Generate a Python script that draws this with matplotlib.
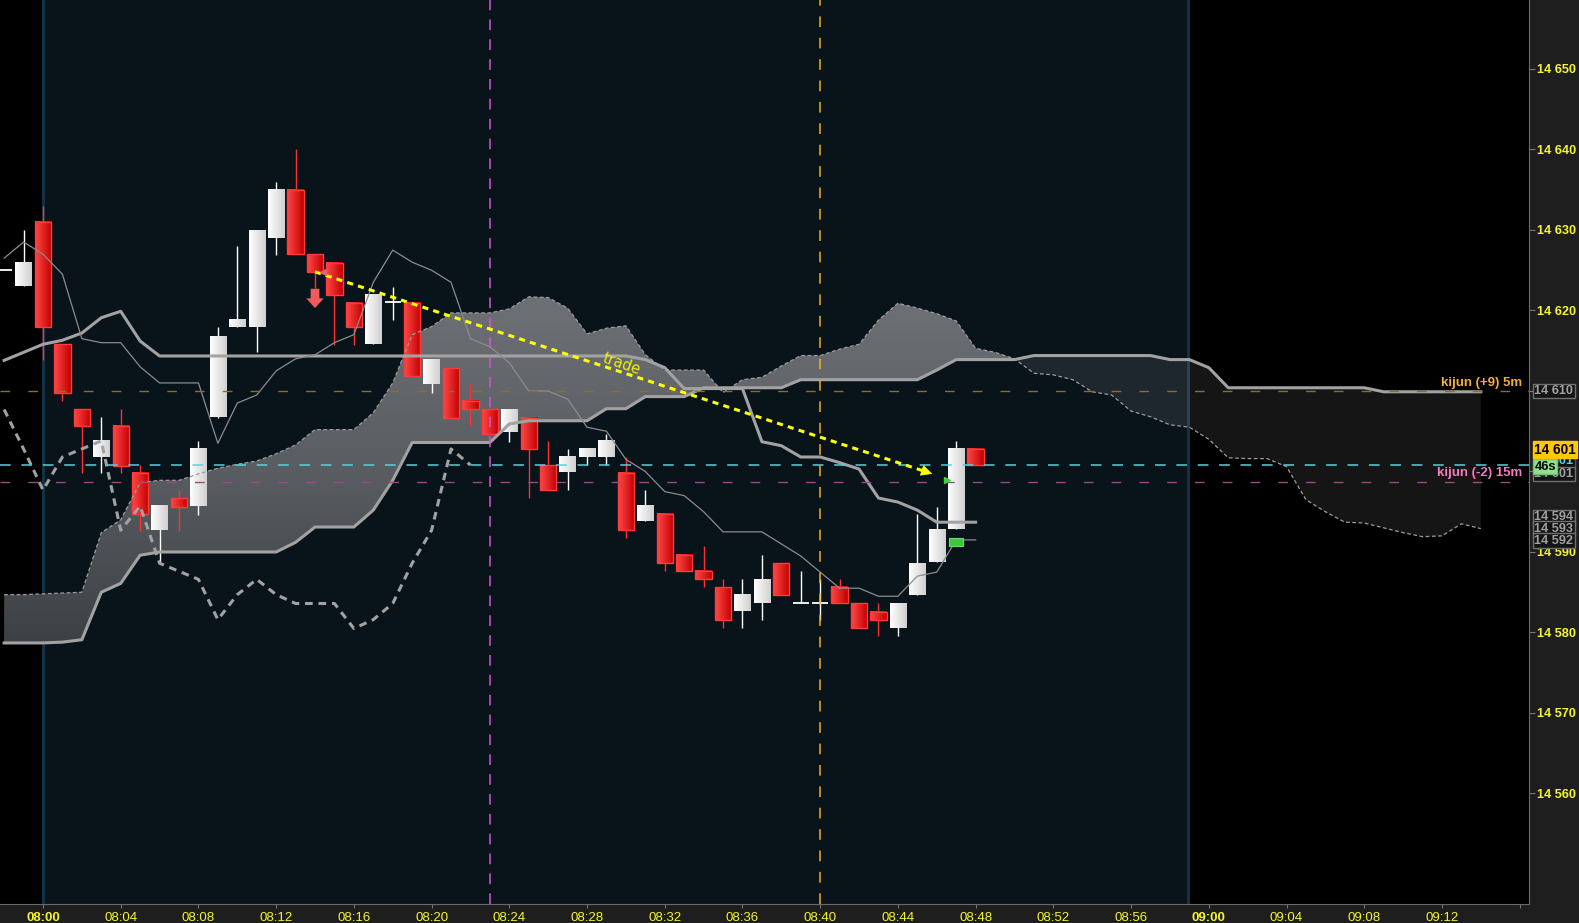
import numpy as np
import pandas as pd
import matplotlib
matplotlib.use("Agg")
import matplotlib.pyplot as plt
import matplotlib.dates as mdates
from matplotlib.patches import Rectangle
from matplotlib.path import Path
from matplotlib.colors import LinearSegmentedColormap

# 1-minute bars, 07:58 .. 08:48
bar_times = pd.date_range("2024-03-01 07:58", "2024-03-01 08:48", freq="1min")
opens = [14625.0, 14623.0, 14631.0, 14615.8, 14607.7, 14601.8, 14605.7, 14599.8, 14592.7, 14596.7,
         14595.7, 14606.8, 14618.0, 14618.0, 14629.0, 14635.0, 14627.0, 14625.9, 14620.9, 14615.8,
         14621.0, 14620.9, 14610.9, 14612.8, 14608.8, 14607.7, 14604.9, 14606.7, 14600.8, 14599.9,
         14601.8, 14601.8, 14599.8, 14593.8, 14594.7, 14589.6, 14587.6, 14585.6, 14582.7, 14583.7,
         14588.6, 14583.6, 14583.6, 14585.6, 14583.6, 14582.6, 14580.6, 14584.7, 14588.7, 14592.8,
         14602.8]
highs = [14625.0, 14630.0, 14633.0, 14615.8, 14607.7, 14606.8, 14607.8, 14600.8, 14595.7, 14597.7,
         14603.8, 14618.0, 14628.0, 14630.0, 14635.9, 14640.1, 14627.0, 14625.9, 14620.9, 14621.9,
         14622.9, 14620.9, 14613.9, 14612.8, 14610.9, 14607.7, 14607.7, 14606.7, 14603.8, 14602.8,
         14602.8, 14604.7, 14601.8, 14597.7, 14594.7, 14589.6, 14590.7, 14586.6, 14586.6, 14589.6,
         14588.6, 14587.6, 14586.6, 14586.6, 14583.6, 14583.6, 14583.6, 14594.7, 14595.6, 14603.8,
         14602.8]
lows = [14625.0, 14623.0, 14613.8, 14608.8, 14599.8, 14599.8, 14599.8, 14592.6, 14588.6, 14592.6,
        14594.6, 14606.7, 14618.0, 14614.8, 14626.9, 14627.0, 14622.8, 14615.7, 14615.7, 14615.8,
        14618.8, 14611.8, 14609.8, 14606.7, 14605.7, 14604.7, 14603.7, 14596.7, 14597.7, 14597.7,
        14600.8, 14600.8, 14591.7, 14593.8, 14587.6, 14587.6, 14585.6, 14580.5, 14580.5, 14581.6,
        14584.7, 14583.6, 14581.6, 14583.6, 14580.5, 14579.6, 14579.6, 14584.7, 14588.7, 14592.8,
        14600.8]
closes = [14625.0, 14625.9, 14617.9, 14609.8, 14605.7, 14603.8, 14600.7, 14594.7, 14595.7, 14595.6,
          14602.8, 14616.8, 14618.9, 14630.0, 14635.0, 14627.0, 14624.8, 14621.9, 14617.9, 14621.9,
          14621.0, 14611.8, 14613.9, 14606.7, 14607.7, 14604.7, 14607.7, 14602.8, 14597.7, 14601.8,
          14602.8, 14603.8, 14592.7, 14595.7, 14588.6, 14587.6, 14586.6, 14581.6, 14584.7, 14586.6,
          14584.7, 14583.6, 14583.6, 14583.6, 14580.5, 14581.6, 14583.6, 14588.6, 14592.7, 14602.8,
          14600.8]

tenkan = [14626.5, 14628.5, 14627.0, 14624.5, 14616.5, 14616.0, 14616.0, 14613.0, 14611.0, 14611.0,
          14611.0, 14603.5, 14608.5, 14609.5, 14612.5, 14614.0, 14614.5, 14616.0, 14617.0, 14623.5,
          14627.5, 14626.0, 14625.0, 14623.5, 14616.5, 14615.5, 14613.5, 14610.0, 14610.0, 14609.0,
          14605.5, 14605.0, 14601.5, 14600.0, 14597.5, 14597.0, 14595.0, 14592.5, 14592.5, 14592.5,
          14591.0, 14589.5, 14587.5, 14585.5, 14585.5, 14584.5, 14584.5, 14587.0, 14587.5, 14591.5,
          14591.5]
kijun = [14613.8, 14614.8, 14615.8, 14616.3, 14617.2, 14619.1, 14619.9, 14616.2, 14614.35, 14614.35,
         14614.35, 14614.35, 14614.35, 14614.35, 14614.35, 14614.35, 14614.35, 14614.35, 14614.35, 14614.35,
         14614.35, 14614.35, 14614.35, 14614.35, 14614.35, 14614.35, 14614.35, 14614.35, 14614.35, 14614.35,
         14614.35, 14614.35, 14614.35, 14613.9, 14612.9, 14610.3, 14610.3, 14610.3, 14610.3, 14603.7,
         14603.2, 14601.8, 14601.8, 14601.1, 14600.3, 14596.7, 14596.2, 14595.2, 14593.7, 14593.7,
         14593.7]

# senkou spans, already shifted forward: 07:58 .. 09:14
cloud_times = pd.date_range("2024-03-01 07:58", "2024-03-01 09:14", freq="1min")
senkou_a = [14584.7, 14584.7, 14584.8, 14584.9, 14585.0, 14592.4, 14594.0, 14598.6, 14598.9, 14598.9,
            14599.7, 14600.4, 14600.9, 14601.3, 14602.2, 14603.3, 14605.2, 14605.2, 14605.2, 14607.3,
            14611.0, 14617.0, 14618.0, 14619.7, 14619.7, 14619.7, 14620.2, 14621.7, 14621.6, 14620.3,
            14617.1, 14617.8, 14618.1, 14614.5, 14612.6, 14612.6, 14612.6, 14609.8, 14611.4, 14611.7,
            14613.1, 14614.4, 14614.4, 14615.2, 14615.8, 14618.8, 14620.9, 14620.3, 14619.6, 14618.7,
            14615.3, 14614.8, 14614.0, 14612.2, 14612.0, 14611.4, 14609.9, 14609.5, 14607.5, 14606.8,
            14605.8, 14605.5, 14604.0, 14601.7, 14601.6, 14601.6, 14600.6, 14596.5, 14595.0, 14593.7,
            14593.6, 14593.0, 14592.4, 14591.9, 14592.0, 14593.5, 14592.9]
senkou_b = [14578.7, 14578.7, 14578.7, 14578.8, 14579.1, 14585.0, 14586.1, 14589.6, 14590.0, 14590.0,
            14590.0, 14590.0, 14590.0, 14590.0, 14590.0, 14591.2, 14593.1, 14593.1, 14593.1, 14595.2,
            14598.9, 14603.6, 14603.6, 14603.6, 14603.6, 14603.6, 14605.9, 14606.3, 14606.3, 14606.3,
            14606.3, 14607.8, 14607.8, 14609.3, 14609.3, 14609.3, 14610.4, 14610.4, 14610.4, 14610.4,
            14610.4, 14611.4, 14611.4, 14611.4, 14611.4, 14611.4, 14611.4, 14611.4, 14612.6, 14613.9,
            14613.9, 14613.9, 14613.9, 14614.4, 14614.4, 14614.4, 14614.4, 14614.4, 14614.4, 14614.4,
            14613.9, 14613.9, 14612.9, 14610.4, 14610.4, 14610.4, 14610.4, 14610.4, 14610.4, 14610.4,
            14610.4, 14609.9, 14609.9, 14609.9, 14609.9, 14609.9, 14609.9]

kijun_5m = 14610.0
kijun_15m = 14598.7
last_price = 14600.8

x_tick_times = pd.date_range("2024-03-01 08:00", "2024-03-01 09:16", freq="4min")
x_tick_labels = ["08:00", "08:04", "08:08", "08:12", "08:16", "08:20", "08:24", "08:28", "08:32", "08:36",
                 "08:40", "08:44", "08:48", "08:52", "08:56", "09:00", "09:04", "09:08", "09:12", ""]
y_ticks = [14560, 14570, 14580, 14590, 14600, 14610, 14620, 14630, 14640, 14650]
y_tick_labels = ["14 560", "14 570", "14 580", "14 590", "", "", "14 620", "14 630", "14 640", "14 650"]

MIN = 1 / 1440.0
def tnum(hhmm):
    return mdates.date2num(pd.Timestamp("2024-03-01 " + hhmm))

xb = mdates.date2num(bar_times)
xc = mdates.date2num(cloud_times)
x800 = tnum("08:00")

fig = plt.figure(figsize=(15.79, 9.23), dpi=100, facecolor="#1e1e1e")
ax = fig.add_axes([0, 19 / 923, 1529 / 1579, 904 / 923])
ax.set_facecolor("black")

# session background
ax.axvspan(x800, x800 + 58.95 * MIN, color="#08131a", zorder=0, lw=0)
for xv in (x800, x800 + 58.95 * MIN):
    ax.axvline(xv, color="#15334a", lw=2, zorder=0.5)

# cloud
A = np.array(senkou_a)
B = np.array(senkou_b)
bull = ax.fill_between(xc, A, B, where=A >= B, interpolate=True, facecolor="none", edgecolor="none")
clip = Path.make_compound_path(*bull.get_paths())
cloud_cmap = LinearSegmentedColormap.from_list("cloud", ["#3c4044", "#5a5e62", "#6e7276"])
im = ax.imshow(np.linspace(0, 1, 256).reshape(-1, 1), extent=[xc[0], xc[-1], 14578, 14623],
               origin="lower", aspect="auto", cmap=cloud_cmap, zorder=1, interpolation="bilinear")
im.set_clip_path(clip, transform=ax.transData)
ax.fill_between(xc, A, B, where=A < B, interpolate=True, facecolor="white", alpha=0.085, lw=0, zorder=1)

# candles
red_cmap = LinearSegmentedColormap.from_list("red", ["#ff4848", "#c20000"])
white_cmap = LinearSegmentedColormap.from_list("white", ["#ffffff", "#d0d0d0"])
hgrad = np.linspace(0, 1, 64).reshape(1, -1)
half = 0.42 * MIN
for x, o, h, l, c in zip(xb, opens, highs, lows, closes):
    up = c >= o
    col = "#ffffff" if up else "#ff3030"
    if h > l:
        ax.vlines(x, l, h, color=col, lw=1, zorder=2)
    if abs(c - o) < 0.3:
        ax.hlines(o, x - half, x + half, color="white", lw=1.3, zorder=2)
        continue
    lo, hi = min(o, c), max(o, c)
    ax.imshow(hgrad, extent=[x - half, x + half, lo, hi], aspect="auto",
              cmap=white_cmap if up else red_cmap, zorder=2.1, interpolation="bilinear")
    if not up:
        ax.add_patch(Rectangle((x - half, lo), 2 * half, hi - lo, fill=False, ec="#ff3a3a", lw=1, zorder=2.2))

# ichimoku lines
ax.plot(xc, A, color="#9c9c9c", lw=0.9, ls=(0, (3, 2)), zorder=3)
ax.plot(xc, B, color="#a2a2a2", lw=2.2, zorder=3)
ax.plot(xb, kijun, color="#a2a2a2", lw=2.2, zorder=3)
ax.plot(xb, tenkan, color="#8c8c8c", lw=0.9, zorder=3)
ax.plot(xb[:25], closes[26:], color="#a2a2a2", lw=2.2, ls=(0, (2.5, 1.9)), zorder=3)

# level lines
ax.axhline(kijun_5m, color="#8a6d2f", lw=1, ls=(0, (7, 13)), zorder=3)
ax.axhline(last_price, color="#5ad0dc", lw=1.1, ls=(0, (7, 7)), zorder=3)
ax.axhline(kijun_15m, color="#9c4a80", lw=1, ls=(0, (7, 13)), zorder=3)
ax.axvline(tnum("08:23"), color="#d455d4", lw=1.1, ls=(0, (7, 6)), zorder=3)
ax.axvline(tnum("08:40"), color="#f0b020", lw=1.1, ls=(0, (7, 7)), zorder=3)

ax.text(1522 / 1529, 14611.0, "kijun (+9) 5m", transform=ax.get_yaxis_transform(), ha="right", va="center",
        color="#f0b030", fontsize=9.5, family="Liberation Sans", fontweight="bold", zorder=5)
ax.text(1522 / 1529, 14599.8, "kijun (-2) 15m", transform=ax.get_yaxis_transform(), ha="right", va="center",
        color="#f07cbc", fontsize=9.5, family="Liberation Sans", fontweight="bold", zorder=5)

# trade arrow
t_start, p_start = tnum("08:14"), 14624.8
t_end, p_end = tnum("08:45:54"), 14599.6
ax.plot([t_start, t_end - 0.5 * MIN], [p_start, p_end + 0.4], color="#ffff00", lw=2.2, ls=(0, (2, 1.7)), zorder=4)
ax.annotate("", xy=(t_end, p_end), xytext=(t_end - 0.6 * MIN, p_end + 0.48),
            arrowprops=dict(arrowstyle="-|>", color="#ffff00", lw=0.5, mutation_scale=18), zorder=4)
ax.text(tnum("08:23") + 6.8 * MIN, 14613.3, "trade", color="#f0f000", fontsize=10.5, rotation=-19,
        ha="center", va="center", zorder=4)
ax.plot([t_start + 0.4 * MIN], [p_start], marker="<", color="#f06060", ms=4, zorder=4)

# signal markers
ax.annotate("", xy=(tnum("08:14"), 14620.3), xytext=(tnum("08:14"), 14622.7),
            arrowprops=dict(arrowstyle="simple,head_length=0.5,head_width=0.9,tail_width=0.45",
                            fc="#f05a5a", ec="none", mutation_scale=14, shrinkA=0, shrinkB=0), zorder=4)
ax.add_patch(Rectangle((tnum("08:47") - 0.36 * MIN, 14590.7), 0.72 * MIN, 1.0,
                       fc="#3cc83c", ec="#60e060", lw=0.8, zorder=4))
ax.plot([tnum("08:47") - 0.45 * MIN], [14598.9], marker=">", color="#40d040", ms=4, zorder=4)

# axes
ax.set_xlim(x800 - 2.213 * MIN, x800 + 76.48 * MIN)
ax.set_ylim(14546.27, 14658.57)
ax.set_xticks(mdates.date2num(x_tick_times))
ax.set_xticklabels(x_tick_labels)
ax.yaxis.tick_right()
ax.set_yticks(y_ticks)
ax.set_yticklabels(y_tick_labels)
ax.tick_params(axis="x", colors="#777777", length=3, pad=3, labelcolor="#f4f430", labelsize=9.5)
ax.tick_params(axis="y", colors="#777777", length=4, pad=1.5, labelcolor="#f4f430", labelsize=9.2)
for lbl in ax.get_xticklabels():
    lbl.set_family("Liberation Sans")
    if lbl.get_text() in ("08:00", "09:00"):
        lbl.set_fontweight("bold")
for lbl in ax.get_yticklabels():
    lbl.set_family("Liberation Sans")
    lbl.set_fontweight("bold")
for side in ("top", "left"):
    ax.spines[side].set_visible(False)
for side in ("right", "bottom"):
    ax.spines[side].set_color("#6a6a6a")

# price boxes on the right axis
def axis_box(price, text, fc, ec, tc, size=9.2):
    ax.text(1.0035, price, text, transform=ax.get_yaxis_transform(), ha="left", va="center",
            fontsize=size, fontweight="bold", family="Liberation Sans", color=tc, clip_on=False,
            bbox=dict(boxstyle="square,pad=0.1", fc=fc, ec=ec, lw=1), zorder=10)

axis_box(14610.0, "14 610", "#141414", "#707070", "#a0a0a0")
axis_box(14601.3, "14 601", "#101010", "#505050", "#5ad0dc")
axis_box(14599.7, "14 601", "#141414", "#707070", "#a0a0a0")
axis_box(14600.6, "46s", "#8fe08f", "#6fc06f", "#000000", 9.2)
axis_box(14602.7, "14 601", "#ffc800", "#ffc800", "#000000", 9.8)
axis_box(14594.3, "14 594", "#141414", "#707070", "#a0a0a0")
axis_box(14592.9, "14 593", "#141414", "#707070", "#a0a0a0")
axis_box(14591.4, "14 592", "#141414", "#707070", "#a0a0a0")

fig.savefig("out.png", dpi=100, facecolor=fig.get_facecolor())
